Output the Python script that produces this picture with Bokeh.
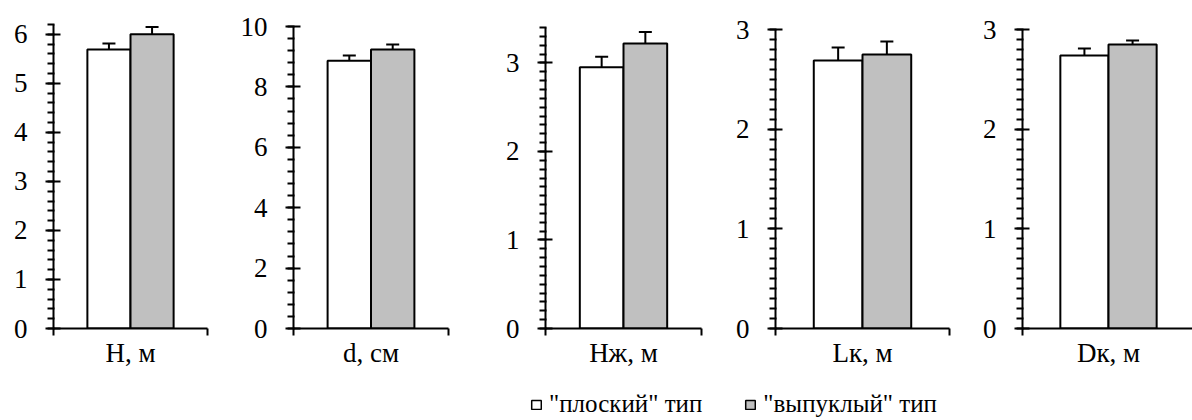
from bokeh.plotting import figure
from bokeh.models import (ColumnDataSource, Range1d, LinearAxis,
                          FixedTicker, Legend, LegendItem)
from bokeh.transform import dodge
from bokeh.layouts import row, column
from bokeh.embed import file_html
from bokeh.resources import INLINE
import numpy as np

# ---- data ----
categories = ["H, м", "d, см", "Hж, м", "Lк, м", "Dк, м"]
series_names = ['"плоский" тип', '"выпуклый" тип']
flat_vals = [5.69, 8.87, 2.95, 2.69, 2.74]
flat_err = [0.12, 0.17, 0.12, 0.13, 0.07]
convex_vals = [6.00, 9.24, 3.22, 2.75, 2.85]
convex_err = [0.15, 0.16, 0.13, 0.13, 0.04]
y_max = [6.2, 10, 3.4, 3, 3]
major_step = [1, 2, 1, 1, 1]
minor_step = [0.2, 0.4, 0.1, 0.1, 0.1]

# ---- layout (pixels) ----
fig_w = [237, 251, 242, 230, 232]
border_l = [53, 54, 55, 43, 60]
frame_w = [154, 155, 156, 174, 172]
axis_top_px = [24, 26, 27, 29, 29]   # where each y axis line ends
FRAME_TOP = 24
FRAME_BOTTOM = 328
ROW_H = 374
FONT = "Liberation Serif"
FS = "27px"
LEG_FS = "25px"
BAR_W = 0.28
CAT_POS = 0.5   # single category sits in the middle of the 0..1 x-range

figs = []
fh = FRAME_BOTTOM - FRAME_TOP
for i, cat in enumerate(categories):
    y_end = y_max[i] * fh / (FRAME_BOTTOM - axis_top_px[i])
    p = figure(frame_width=frame_w[i], frame_height=fh, title=None,
               x_range=Range1d(0, 1), y_range=Range1d(0, y_end),
               toolbar_location=None, output_backend="svg",
               x_axis_location=None, y_axis_location=None,
               min_border_left=border_l[i], min_border_right=fig_w[i] - border_l[i] - frame_w[i],
               min_border_top=FRAME_TOP, min_border_bottom=ROW_H - FRAME_BOTTOM)
    p.outline_line_color = None
    p.xgrid.visible = False
    p.ygrid.visible = False

    src = ColumnDataSource(dict(
        pos=[CAT_POS],
        flat=[flat_vals[i]], flat_hi=[flat_vals[i] + flat_err[i]],
        conv=[convex_vals[i]], conv_hi=[convex_vals[i] + convex_err[i]],
    ))
    xf = dodge("pos", -BAR_W / 2)
    xc = dodge("pos", BAR_W / 2)
    # error bars (behind bars)
    p.segment(x0=xf, y0="flat", x1=xf, y1="flat_hi", source=src, line_color="black", line_width=2)
    p.segment(x0=xc, y0="conv", x1=xc, y1="conv_hi", source=src, line_color="black", line_width=2)
    p.scatter(x=xf, y="flat_hi", marker="dash", size=13, source=src, line_color="black", line_width=2)
    p.scatter(x=xc, y="conv_hi", marker="dash", size=13, source=src, line_color="black", line_width=2)
    p.vbar(x=xf, top="flat", width=BAR_W, bottom=0, source=src,
           fill_color="white", line_color="black", line_width=2)
    p.vbar(x=xc, top="conv", width=BAR_W, bottom=0, source=src,
           fill_color="#C0C0C0", line_color="black", line_width=2)

    # y axis
    majors = [float(v) for v in np.round(np.arange(0, y_max[i] + 1e-9, major_step[i]), 3)]
    minors = [float(v) for v in np.round(np.arange(0, y_max[i] + 1e-9, minor_step[i]), 3)]
    yax = LinearAxis(ticker=FixedTicker(ticks=majors, minor_ticks=minors), bounds=(0, y_max[i]))
    yax.axis_line_width = 2
    yax.major_tick_line_width = 2
    yax.minor_tick_line_width = 2
    yax.major_tick_out = 8
    yax.major_tick_in = 7
    yax.minor_tick_out = 6
    yax.minor_tick_in = 1
    yax.major_label_standoff = 18
    yax.major_label_text_font = FONT
    yax.major_label_text_font_size = FS
    yax.major_label_text_color = "black"
    p.add_layout(yax, "left")

    # x axis: line, end ticks, category label in the middle
    xax = LinearAxis(ticker=FixedTicker(ticks=[CAT_POS], minor_ticks=[0, 1]))
    xax.major_label_overrides = {CAT_POS: cat}
    xax.axis_line_width = 2
    xax.major_tick_line_color = None
    xax.major_tick_out = 0
    xax.major_tick_in = 0
    xax.minor_tick_line_width = 2
    xax.minor_tick_out = 7
    xax.minor_tick_in = 0
    xax.major_label_standoff = 2
    xax.major_label_text_font = FONT
    xax.major_label_text_font_size = FS
    xax.major_label_text_color = "black"
    p.add_layout(xax, "below")

    figs.append(p)

# ---- legend strip ----
leg = figure(width=1192, height=420 - ROW_H, x_range=(0, 1), y_range=(0, 1), title=None,
             toolbar_location=None, output_backend="svg", min_border=0)
leg.axis.visible = False
leg.xgrid.visible = False
leg.ygrid.visible = False
leg.outline_line_color = None
hidden = ColumnDataSource(dict(x=[float("nan")], top=[float("nan")]))
r1 = leg.vbar(x="x", top="top", width=0.1, source=hidden,
              fill_color="white", line_color="black", line_width=1.5)
r2 = leg.vbar(x="x", top="top", width=0.1, source=hidden,
              fill_color="#C0C0C0", line_color="black", line_width=1.5)
legend = Legend(items=[LegendItem(label=series_names[0], renderers=[r1]),
                       LegendItem(label=series_names[1], renderers=[r2])],
                orientation="horizontal", location=(530, 2),
                glyph_width=12, glyph_height=11, label_standoff=7, spacing=42,
                padding=0, margin=0, border_line_color=None, background_fill_alpha=0,
                label_text_font=FONT, label_text_font_size=LEG_FS, label_text_color="black")
leg.add_layout(legend)

layout = column(row(*figs, spacing=0), leg, spacing=0)
open("out.html", "w").write(file_html(layout, INLINE))
